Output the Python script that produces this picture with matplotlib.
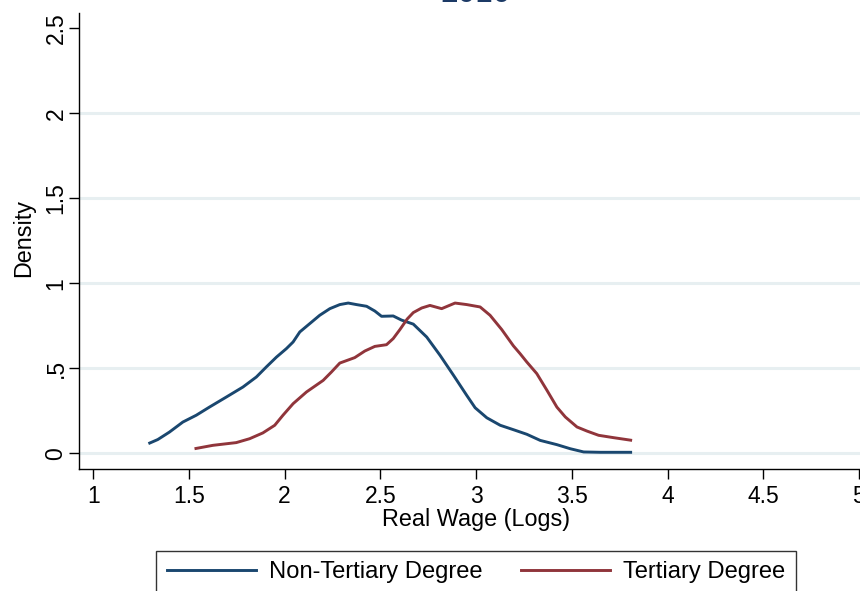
# plot.py — kernel density of log real wages by education, 2010 (Stata-style look)

import matplotlib
matplotlib.use('Agg')
import matplotlib.pyplot as plt
from matplotlib.lines import Line2D

plt.rcParams['font.family'] = ['Liberation Sans', 'DejaVu Sans']

# --- data ---
title = "2010"
x_label = "Real Wage (Logs)"
y_label = "Density"
series_names = ["Non-Tertiary Degree", "Tertiary Degree"]

non_tertiary_x = [1.288, 1.337, 1.398, 1.468, 1.538, 1.607, 1.695, 1.782, 1.852, 1.904,
                  1.957, 2.009, 2.044, 2.079, 2.131, 2.183, 2.236, 2.288, 2.332, 2.375,
                  2.428, 2.471, 2.506, 2.567, 2.610, 2.672, 2.742, 2.812, 2.882, 2.951,
                  2.995, 3.056, 3.126, 3.195, 3.265, 3.335, 3.422, 3.492, 3.562, 3.649,
                  3.815]
non_tertiary_y = [0.057, 0.081, 0.125, 0.184, 0.224, 0.272, 0.331, 0.390, 0.449, 0.508,
                  0.566, 0.616, 0.655, 0.714, 0.763, 0.812, 0.851, 0.875, 0.884, 0.875,
                  0.865, 0.837, 0.806, 0.808, 0.784, 0.760, 0.684, 0.576, 0.459, 0.341,
                  0.268, 0.209, 0.165, 0.139, 0.112, 0.076, 0.051, 0.027, 0.008, 0.006,
                  0.006]

tertiary_x = [1.529, 1.625, 1.747, 1.817, 1.886, 1.948, 1.991, 2.044, 2.114, 2.201,
              2.244, 2.288, 2.366, 2.419, 2.471, 2.532, 2.567, 2.602, 2.640, 2.672,
              2.716, 2.759, 2.820, 2.890, 2.951, 3.021, 3.073, 3.134, 3.195, 3.230,
              3.265, 3.317, 3.370, 3.422, 3.466, 3.527, 3.579, 3.640, 3.719, 3.815]
tertiary_y = [0.027, 0.047, 0.063, 0.086, 0.120, 0.165, 0.224, 0.292, 0.361, 0.429,
              0.478, 0.531, 0.563, 0.602, 0.629, 0.639, 0.675, 0.728, 0.790, 0.828,
              0.855, 0.870, 0.851, 0.884, 0.875, 0.861, 0.812, 0.728, 0.632, 0.586,
              0.537, 0.469, 0.371, 0.272, 0.214, 0.155, 0.131, 0.106, 0.092, 0.076]

x_ticks = [1, 1.5, 2, 2.5, 3, 3.5, 4, 4.5, 5]
x_tick_labels = ["1", "1.5", "2", "2.5", "3", "3.5", "4", "4.5", "5"]
y_ticks = [0, 0.5, 1, 1.5, 2, 2.5]
y_tick_labels = ["0", ".5", "1", "1.5", "2", "2.5"]

# Stata s2color navy / maroon
NAVY = '#1a476f'
MAROON = '#90353b'
GRID = '#e7eff1'

fig = plt.figure(figsize=(8.6, 5.91), dpi=100)
fig.patch.set_facecolor('white')

# axes run past the right edge like the cropped original
ax = fig.add_axes([0.0922, 0.2069, 0.9228, 0.7716])
ax.set_facecolor('white')

ax.plot(non_tertiary_x, non_tertiary_y, color=NAVY, linewidth=2.1,
        solid_capstyle='butt', solid_joinstyle='round')
ax.plot(tertiary_x, tertiary_y, color=MAROON, linewidth=2.1,
        solid_capstyle='butt', solid_joinstyle='round')

ax.set_xlim(0.927, 5.073)
ax.set_ylim(-0.0906, 2.592)

ax.set_xticks(x_ticks)
ax.set_xticklabels(x_tick_labels)
ax.set_yticks(y_ticks)
ax.set_yticklabels(y_tick_labels, rotation=90, va='center')

ax.tick_params(axis='x', length=7, width=1.0, pad=5, labelsize=16.5, colors='black')
ax.tick_params(axis='y', length=7, width=1.0, pad=1.5, labelsize=16.5, colors='black')

# horizontal grid, none at the top tick
ax.grid(axis='y', color=GRID, linewidth=2.2)
ax.yaxis.get_gridlines()[-1].set_visible(False)
ax.set_axisbelow(True)

for side in ['top', 'right']:
    ax.spines[side].set_visible(False)
for side in ['left', 'bottom']:
    ax.spines[side].set_color('black')
    ax.spines[side].set_linewidth(1.0)

ax.set_xlabel(x_label, fontsize=16.8, labelpad=0)
ax.set_ylabel(y_label, fontsize=16.8)
ax.yaxis.set_label_coords(-0.0552, 0.505)

# title is mostly cut off at the top in the original
fig.text(0.5535, 0.9966, title, ha='center', va='baseline', fontsize=22.8, color='#1c3a66')

handles = [Line2D([], [], color=NAVY, linewidth=2.1),
           Line2D([], [], color=MAROON, linewidth=2.1)]
leg = fig.legend(handles, series_names, loc='upper center', bbox_to_anchor=(0.5535, 0.0682),
                 ncol=2, fontsize=17.1, frameon=True, fancybox=False, shadow=False,
                 edgecolor='black', handlelength=3.75, handletextpad=0.55,
                 columnspacing=1.6, borderpad=0.45, borderaxespad=0)
leg.get_frame().set_linewidth(1.0)

fig.savefig('out.png', dpi=100, facecolor='white')
plt.close(fig)
